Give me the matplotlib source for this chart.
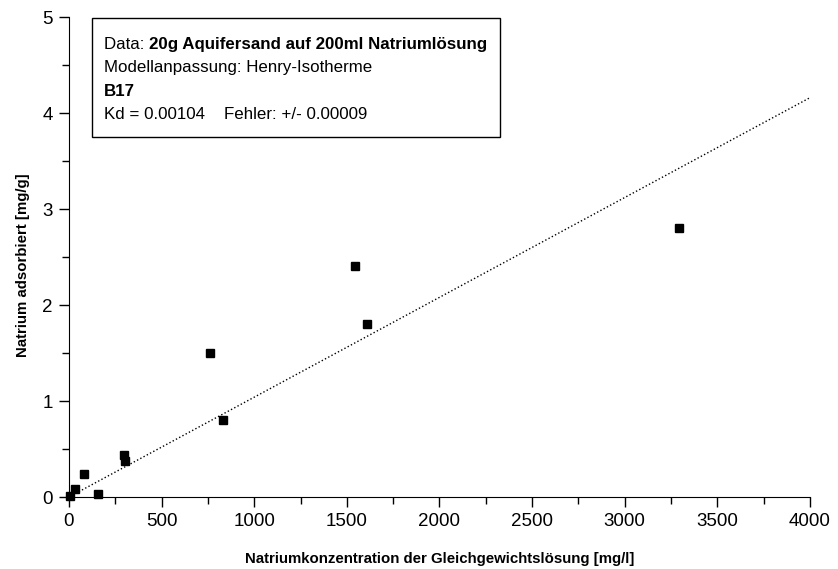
import numpy as np
import matplotlib.pyplot as plt
from matplotlib.patches import Rectangle

plt.rcParams['font.family'] = ['Liberation Sans', 'DejaVu Sans']

# measured data
conc = [5, 32, 81, 157, 297, 302, 761, 831, 1544, 1609, 3293]
ads = [0.01, 0.08, 0.24, 0.03, 0.44, 0.375, 1.50, 0.80, 2.41, 1.80, 2.80]

# Henry isotherm fit
kd = 0.00104
x_fit = np.array([0, 4000])

fig = plt.figure(figsize=(8.38, 5.69), dpi=100)
ax = fig.add_axes([0.0823, 0.1265, 0.8843, 0.8436])

ax.plot(x_fit, kd * x_fit, ':k', lw=1)
ax.plot(conc, ads, 'sk', ms=5.8, clip_on=False)

ax.set_xlim(0, 4000)
ax.set_ylim(0, 5)
ax.set_xticks(np.arange(0, 4001, 500))
ax.set_xticks(np.arange(250, 4000, 500), minor=True)
ax.set_yticks(np.arange(0, 6, 1))
ax.set_yticks(np.arange(0.5, 5, 1), minor=True)
ax.tick_params(direction='out', length=7.5, width=1, labelsize=13.5, pad=4)
ax.tick_params(which='minor', direction='out', length=5, width=1)
for s in ['top', 'right']:
    ax.spines[s].set_visible(False)

ax.set_xlabel('Natriumkonzentration der Gleichgewichtslösung [mg/l]', fontsize=10.8, fontweight='bold')
ax.set_ylabel('Natrium adsorbiert [mg/g]', fontsize=10.8, fontweight='bold')
ax.xaxis.set_label_coords(0.5, -0.115)
ax.yaxis.set_label_coords(-0.053, 0.482)

# info box
ax.add_patch(Rectangle((0.031, 0.75), 0.551, 0.248, transform=ax.transAxes,
                       fill=False, ec='k', lw=1, clip_on=False))
t1 = ax.text(0.047, 0.942, 'Data: ', transform=ax.transAxes, fontsize=12.2, va='center')
ax.annotate('20g Aquifersand auf 200ml Natriumlösung', xy=(1, 0), xycoords=t1,
            va='bottom', fontsize=12.2, fontweight='bold')
ax.text(0.047, 0.894, 'Modellanpassung: Henry-Isotherme', transform=ax.transAxes, fontsize=12.2, va='center')
ax.text(0.047, 0.844, 'B17', transform=ax.transAxes, fontsize=12.2, va='center', fontweight='bold')
ax.text(0.047, 0.796, 'Kd = 0.00104    Fehler: +/- 0.00009', transform=ax.transAxes, fontsize=12.2, va='center')

fig.savefig('out.png', dpi=100)
